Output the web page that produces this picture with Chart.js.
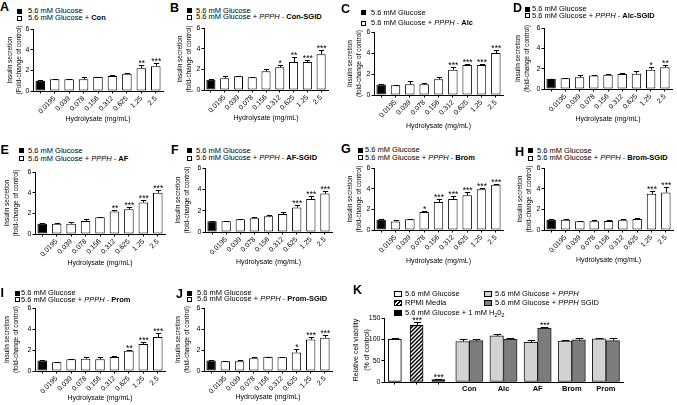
<!DOCTYPE html>
<html><head><meta charset="utf-8">
<script src="https://cdn.jsdelivr.net/npm/chart.js@4.4.0/dist/chart.umd.min.js"></script>
<style>
html,body{margin:0;padding:0;background:#fff;width:677px;height:405px;overflow:hidden;font-family:"Liberation Sans",Arial,sans-serif;color:#000;}
canvas{position:absolute;}
.t{position:absolute;font-size:7.5px;line-height:8px;height:8px;white-space:nowrap;}
.sq{position:absolute;width:5px;height:5px;box-sizing:border-box;border:1px solid #000;background:#fff;}
.blk{background:#000;}
.let{position:absolute;font-weight:bold;font-size:12.5px;line-height:1;}
sub{font-size:70%;vertical-align:-1.5px;line-height:0;}
</style></head><body>
<div id="root"></div>
<script>
// ---------- DATA ----------
const doseLabels = ['', '0.0195', '0.039', '0.078', '0.156', '0.312', '0.625', '1.25', '2.5'];

const meansA = [1.0, 1.13, 1.13, 1.13, 1.35, 1.45, 1.68, 2.2, 2.4];
const errA   = [0.04, 0.07, 0.05, 0.22, 0.05, 0.07, 0.08, 0.32, 0.3];
const sigA   = ['', '', '', '', '', '', '', '**', '***'];

const meansB = [1.0, 1.14, 1.33, 1.23, 1.82, 2.2, 2.7, 2.7, 3.45];
const errB   = [0.03, 0.2, 0.06, 0.04, 0.2, 0.2, 0.45, 0.17, 0.4];
const sigB   = ['', '', '', '', '', '*', '**', '***', '***'];

const meansC = [1.0, 0.93, 1.02, 1.02, 1.5, 2.4, 2.85, 2.85, 4.0];
const errC   = [0.05, 0.06, 0.28, 0.15, 0.18, 0.25, 0.12, 0.15, 0.25];
const sigC   = ['', '', '', '', '', '***', '***', '***', '***'];

const meansD = [1.0, 1.05, 1.15, 1.33, 1.4, 1.47, 1.5, 1.9, 2.15];
const errD   = [0.03, 0.06, 0.2, 0.07, 0.08, 0.15, 0.3, 0.3, 0.22];
const sigD   = ['', '', '', '', '', '', '', '*', '**'];

const meansE = [1.0, 1.0, 1.0, 1.25, 1.63, 2.18, 2.4, 3.05, 4.0];
const errE   = [0.04, 0.04, 0.15, 0.2, 0.05, 0.15, 0.25, 0.2, 0.25];
const sigE   = ['', '', '', '', '', '**', '***', '***', '***'];

const meansF = [1.0, 1.0, 1.2, 1.3, 1.47, 1.68, 2.3, 3.1, 3.6];
const errF   = [0.05, 0.05, 0.04, 0.15, 0.15, 0.15, 0.2, 0.25, 0.25];
const sigF   = ['', '', '', '', '', '', '***', '***', '***'];

const meansG = [1.0, 0.83, 1.05, 1.75, 2.72, 3.0, 3.37, 3.95, 4.37];
const errG   = [0.05, 0.1, 0.03, 0.1, 0.25, 0.25, 0.3, 0.15, 0.05];
const sigG   = ['', '', '', '*', '***', '***', '***', '***', '***'];

const meansH = [1.0, 0.98, 0.85, 0.85, 0.88, 0.95, 1.07, 3.5, 3.63];
const errH   = [0.03, 0.1, 0.06, 0.1, 0.06, 0.1, 0.06, 0.3, 0.5];
const sigH   = ['', '', '', '', '', '', '', '***', '***'];

const meansI = [1.0, 0.83, 1.12, 1.17, 1.12, 1.33, 1.92, 2.57, 3.23];
const errI   = [0.03, 0.05, 0.05, 0.12, 0.2, 0.1, 0.08, 0.18, 0.35];
const sigI   = ['', '', '', '', '', '', '**', '***', '***'];

const meansJ = [1.0, 0.93, 0.93, 1.22, 1.35, 1.3, 1.77, 3.0, 3.17];
const errJ   = [0.05, 0.05, 0.08, 0.15, 0.03, 0.06, 0.35, 0.2, 0.25];
const sigJ   = ['', '', '', '', '', '', '*', '***', '***'];

const hydrolysateNames = ['Con', 'Con-SGID', 'Alc', 'Alc-SGID', 'AF', 'AF-SGID', 'Brom', 'Brom-SGID', 'Prom', 'Prom-SGID'];

// Panel K
const viabilityGroups = ['', '', 'Con', 'Alc', 'AF', 'Brom', 'Prom'];
const controlNames = ['5.6 mM Glucose', 'RPMI Media', '5.6 mM Glucose + 1 mM H2O2'];
const controlMeans = [100, 132.6, 5.5];
const controlErr   = [3, 7, 1];
const controlSig   = ['', '***', '***'];
const ppphMeans = [95, 108, 93, 96, 101];
const ppphErr   = [5, 4, 5, 2, 3];
const ppphSig   = ['', '', '', '', ''];
const sgidMeans = [97, 100, 126, 99, 97];
const sgidErr   = [4, 4, 3, 3, 5];
const sgidSig   = ['', '', '***', '', ''];

// ---------- LAYOUT ----------
const FONT = '"Liberation Sans", Arial, sans-serif';
const root = document.getElementById('root');

const errPlugin = {
  id: 'errbars',
  afterDatasetsDraw(chart) {
    const ctx = chart.ctx, ys = chart.scales.y;
    chart.data.datasets.forEach((ds, di) => {
      if (!ds.errors) return;
      const meta = chart.getDatasetMeta(di);
      meta.data.forEach((el, i) => {
        const v = ds.data[i];
        if (v == null) return;
        const e = ds.errors[i] || 0;
        const x = Math.round(el.x) + 0.5;
        const yTop = ys.getPixelForValue(v);
        const yE = Math.round(ys.getPixelForValue(v + e)) + 0.5;
        const half = el.width * 0.28;
        ctx.save();
        ctx.strokeStyle = '#000'; ctx.lineWidth = 1;
        ctx.beginPath();
        ctx.moveTo(x, yTop); ctx.lineTo(x, yE);
        ctx.moveTo(x - half, yE); ctx.lineTo(x + half, yE);
        ctx.stroke();
        if (ds.sig && ds.sig[i]) {
          ctx.fillStyle = '#000';
          ctx.font = '8.5px ' + FONT;
          ctx.textAlign = 'center';
          ctx.textBaseline = 'alphabetic';
          ctx.fillText(ds.sig[i], el.x + 0.5, yE + 0.5);
        }
        ctx.restore();
      });
    });
  }
};

function addCanvas(left, top, w, h) {
  const c = document.createElement('canvas');
  c.width = w; c.height = h;
  c.style.left = left + 'px'; c.style.top = top + 'px';
  c.style.width = w + 'px'; c.style.height = h + 'px';
  root.appendChild(c);
  return c;
}
function addHTML(cls, left, top, html) {
  const d = document.createElement('div');
  d.className = cls;
  d.style.left = left + 'px'; d.style.top = top + 'px';
  d.innerHTML = html;
  root.appendChild(d);
  return d;
}

const geo = [
  {L:33, R:163, T:29, B:91, yt:10, xt:118, pr:6, sq:17, tx:28, l1:11, l2:18.3, lx:0, ly:1},
  {L:204, R:328, T:28, B:90, yt:180, xt:117, pr:6, sq:187, tx:196, l1:10.5, l2:17, lx:170, ly:1.5},
  {L:374, R:503, T:32, B:95, yt:350, xt:125, pr:6, sq:361, tx:371, l1:12.5, l2:23, lx:341, ly:3},
  {L:544, R:672, T:28, B:89, yt:518, xt:118, pr:4, sq:525, tx:532, l1:9, l2:15.5, lx:513, ly:1.5},
  {L:35, R:165, T:172, B:234, yt:7, xt:262, pr:6, sq:19, tx:28, l1:150.8, l2:158.5, lx:0.5, ly:144},
  {L:205, R:332, T:168, B:232, yt:178, xt:261, pr:6, sq:187, tx:196, l1:150.8, l2:158, lx:171, ly:144},
  {L:374, R:503, T:168, B:230, yt:350, xt:260, pr:6, sq:358, tx:365, l1:150, l2:157.5, lx:341, ly:143},
  {L:544, R:673, T:168, B:230, yt:520, xt:259, pr:4, sq:528, tx:537, l1:150.8, l2:158, lx:515, ly:145.5},
  {L:35, R:165, T:308, B:371, yt:7, xt:397, pr:6, sq:15, tx:21, l1:293, l2:299.7, lx:0.5, ly:287},
  {L:204, R:332, T:308, B:371, yt:178, xt:396, pr:6, sq:187, tx:197, l1:293, l2:299.2, lx:176, ly:288}
];
const letters = ['A','B','C','D','E','F','G','H','I','J'];
const panelData = [
  [meansA, errA, sigA], [meansB, errB, sigB], [meansC, errC, sigC], [meansD, errD, sigD],
  [meansE, errE, sigE], [meansF, errF, sigF], [meansG, errG, sigG], [meansH, errH, sigH],
  [meansI, errI, sigI], [meansJ, errJ, sigJ]
];

panelData.forEach((pd, p) => {
  const g = geo[p];
  const [means, errs, sigs] = pd;
  const cl = Math.round(g.yt - 4.5);
  const ct = g.T - 6;
  const bottom = Math.round(g.xt + 4.5);
  const cw = g.R + g.pr - cl;
  const chh = bottom - ct;
  const yw = g.L - cl;
  const xh = bottom - g.B;
  const c = addCanvas(cl, ct, cw, chh);
  new Chart(c, {
    type: 'bar',
    data: {
      labels: doseLabels,
      datasets: [{
        data: means, errors: errs, sig: sigs,
        backgroundColor: means.map((v, i) => i === 0 ? '#000' : '#fff'),
        borderColor: '#000', borderWidth: 1, borderSkipped: false,
        barPercentage: 0.66, categoryPercentage: 1
      }]
    },
    options: {
      responsive: false, animation: false, events: [],
      layout: {padding: {top: g.T - ct, right: g.pr, left: 0, bottom: 0}},
      plugins: {legend: {display: false}, tooltip: {enabled: false}},
      scales: {
        x: {
          offset: true,
          grid: {display: true, drawOnChartArea: false, drawTicks: true, tickLength: 2.5, color: '#000', offset: false},
          border: {display: true, color: '#000', width: 1},
          ticks: {color: '#000', font: {size: 7, family: FONT}, minRotation: 45, maxRotation: 45, autoSkip: false, padding: 1},
          title: {display: true, text: 'Hydrolysate (mg/mL)', color: '#000', font: {size: 7, family: FONT, lineHeight: 1.2}, padding: 0},
          afterFit: s => { s.height = xh; }
        },
        y: {
          min: 0, max: 6,
          ticks: {stepSize: 1, color: '#000', font: {size: 7, family: FONT}, padding: 1},
          grid: {drawOnChartArea: false, drawTicks: true, tickLength: 2.5, color: '#000'},
          border: {display: true, color: '#000', width: 1},
          title: {display: true, text: ['Insulin secretion', p === 0 ? '(Fold-change of control)' : '(fold-change of control)'],
                  color: '#000', font: {size: 6.5, family: FONT, lineHeight: 1.4}, padding: 0},
          afterFit: s => { s.width = yw; }
        }
      }
    },
    plugins: [errPlugin]
  });
  // legend
  addHTML('sq blk', g.sq, g.l1 - 2.5, '');
  addHTML('sq', g.sq, g.l2 - 2.5, '');
  addHTML('t', g.tx, g.l1 - 4, '5.6 mM Glucose');
  const name = hydrolysateNames[p];
  addHTML('t', g.tx, g.l2 - 4, p === 0 ? '5.6 mM Glucose + <b>' + name + '</b>' :
          '5.6 mM Glucose + <i>PPPH</i> - <b>' + name + '</b>');
  addHTML('let', g.lx, g.ly, letters[p]);
});

// ---------- PANEL K ----------
function hatchPattern(ctx) {
  const c = document.createElement('canvas');
  c.width = 4; c.height = 4;
  const x = c.getContext('2d');
  x.fillStyle = '#fff'; x.fillRect(0, 0, 4, 4);
  x.strokeStyle = '#000'; x.lineWidth = 1.5;
  x.beginPath();
  x.moveTo(-1, 5); x.lineTo(5, -1);
  x.moveTo(-1, 1); x.lineTo(1, -1);
  x.moveTo(3, 5); x.lineTo(5, 3);
  x.stroke();
  return ctx.createPattern(c, 'repeat');
}
(function () {
  const L = 384, R = 623, T = 318, B = 382;
  const cl = 351, ct = T - 6, bottom = 394;
  const cw = R + 6 - cl, chh = bottom - ct;
  const c = addCanvas(cl, ct, cw, chh);
  const ctx = c.getContext('2d');
  const slotCount = 11;
  const slotLabels = Array.from({length: slotCount}, (_, i) => i < controlNames.length ? controlNames[i] : '');
  const slotData = slotLabels.map((_, i) => i < controlMeans.length ? controlMeans[i] : null);
  const slotErr = slotLabels.map((_, i) => i < controlErr.length ? controlErr[i] : 0);
  const slotSig = slotLabels.map((_, i) => i < controlSig.length ? controlSig[i] : '');
  const pad2 = arr => [null, null].concat(arr);
  new Chart(c, {
    type: 'bar',
    data: {
      labels: viabilityGroups,
      datasets: [
        {label: 'controls', xAxisID: 'xs', grouped: false, data: slotData, errors: slotErr, sig: slotSig,
         backgroundColor: ['#fff', hatchPattern(ctx), '#000'], borderColor: '#000', borderWidth: 1, borderSkipped: false,
         barThickness: 13},
        {label: '5.6 mM Glucose + PPPH', xAxisID: 'x', data: pad2(ppphMeans), errors: pad2(ppphErr), sig: pad2(ppphSig),
         backgroundColor: '#d2d2d2', borderColor: '#222', borderWidth: 1, borderSkipped: false,
         barThickness: 13.6},
        {label: '5.6 mM Glucose + PPPH SGID', xAxisID: 'x', data: pad2(sgidMeans), errors: pad2(sgidErr), sig: pad2(sgidSig),
         backgroundColor: '#7d7d7d', borderColor: '#222', borderWidth: 1, borderSkipped: false,
         barThickness: 13.6}
      ]
    },
    options: {
      responsive: false, animation: false, events: [],
      layout: {padding: {top: 6, right: 6, left: 0, bottom: 0}},
      plugins: {legend: {display: false}, tooltip: {enabled: false}},
      scales: {
        xs: {
          type: 'category', position: 'bottom', weight: 0, offset: true,
          labels: slotLabels,
          grid: {display: true, drawOnChartArea: false, drawTicks: true, tickLength: 2.5, offset: false,
                 color: ctx2 => ctx2.index < controlMeans.length ? '#000' : 'rgba(0,0,0,0)'},
          border: {display: true, color: '#000', width: 1},
          ticks: {display: false},
          afterFit: s => { s.height = 2.5; }
        },
        x: {
          position: 'bottom', weight: 1, offset: true,
          grid: {display: false, drawTicks: false},
          border: {display: false},
          ticks: {color: '#000', font: {size: 7.5, family: FONT, weight: 'bold'}, padding: 0, maxRotation: 0, autoSkip: false},
          afterFit: s => { s.height = bottom - B - 2.5; }
        },
        y: {
          min: 0, max: 150,
          ticks: {stepSize: 50, color: '#000', font: {size: 7, family: FONT}, padding: 1},
          grid: {drawOnChartArea: false, drawTicks: true, tickLength: 2.5, color: '#000'},
          border: {display: true, color: '#000', width: 1},
          title: {display: true, text: ['Relative cell viability', '(% of control)'], color: '#000',
                  font: {size: 7, family: FONT, lineHeight: 1.55}, padding: 0},
          afterFit: s => { s.width = L - cl; }
        }
      }
    },
    plugins: [errPlugin]
  });
  addHTML('let', 353, 283.5, 'K');
  const lg = [
    [394, 294.2, 'background:#fff', '5.6 mM Glucose'],
    [394, 303.2, 'background:repeating-linear-gradient(-45deg,#000 0 1.2px,#fff 1.2px 2.6px)', 'RPMI Media'],
    [394, 312.5, 'background:#000', '5.6 mM Glucose + 1 mM H<sub>2</sub>0<sub>2</sub>'],
    [484, 294.2, 'background:#d2d2d2', '5.6 mM Glucose + <i>PPPH</i>'],
    [484, 303.2, 'background:#7d7d7d', '5.6 mM Glucose + <i>PPPH</i> SGID']
  ];
  lg.forEach(([x, y, st, txt]) => {
    const s = addHTML('sq', x, y - 3, '');
    s.style.cssText += ';width:8px;height:6px;' + st;
    addHTML('t', x + 11, y - 4, txt);
  });
})();
</script>
</body></html>
